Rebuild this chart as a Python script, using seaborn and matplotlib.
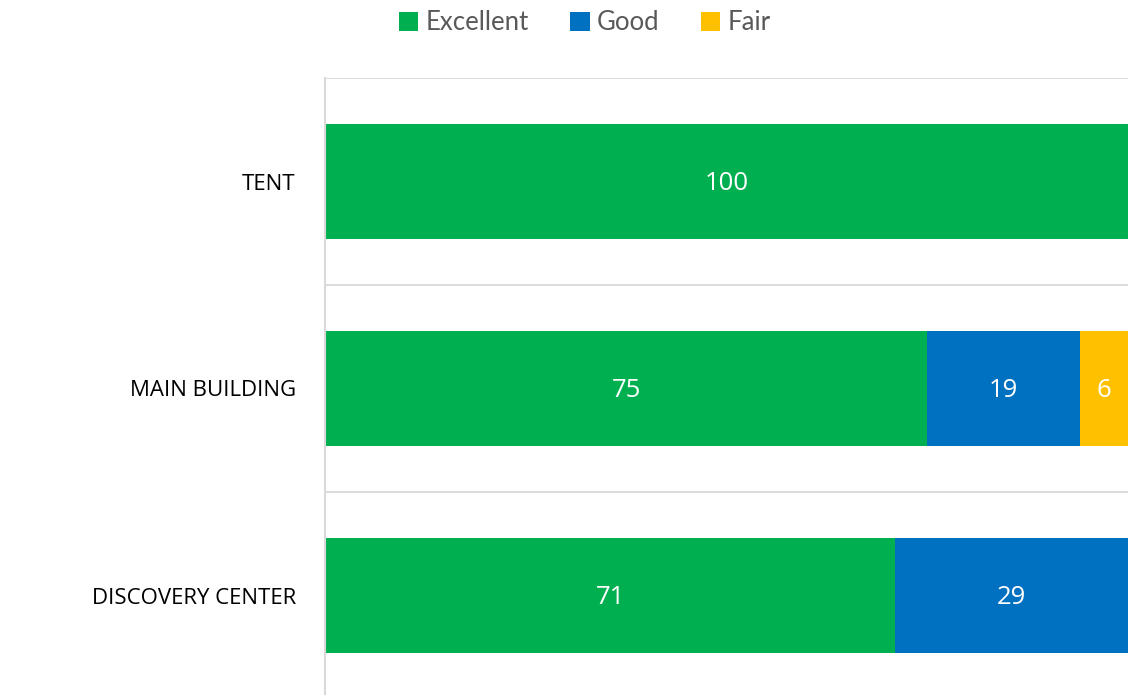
import matplotlib
matplotlib.use("Agg")
import matplotlib.pyplot as plt
from matplotlib.patches import Patch
import seaborn as sns
import numpy as np
import pandas as pd

categories = ["TENT", "MAIN BUILDING", "DISCOVERY CENTER"]
excellent = [100, 75, 71]
good = [0, 19, 29]
fair = [0, 6, 0]
series_names = ["Excellent", "Good", "Fair"]
colors = ["#00B050", "#0070C0", "#FFC000"]

sns.set_theme(style="white")
plt.rcParams["font.family"] = ["Lato", "DejaVu Sans"]

fig = plt.figure(figsize=(11.35, 6.95), dpi=100)
ax = fig.add_axes([325 / 1135, -4 / 695, (1128 - 325) / 1135, (699 - 78) / 695])

series = [excellent, good, fair]
cum = np.cumsum(np.array(series, dtype=float), axis=0)
df = pd.DataFrame({"cat": categories})
bar_h = 115 / 207

# draw from largest cumulative to smallest so the stack shows
for i in range(len(series) - 1, -1, -1):
    df["val"] = cum[i]
    sns.barplot(data=df, x="val", y="cat", color=colors[i], width=bar_h,
                saturation=1, ax=ax, orient="h", linewidth=0)

# data labels
for i, s in enumerate(series):
    for j, v in enumerate(s):
        if v > 0:
            start = cum[i][j] - v
            ax.text(start + v / 2, j + 0.012, f"{v}", ha="center", va="center",
                    color="white", fontsize=18.5, family=["Open Sans", "DejaVu Sans"])

ax.set_xlim(0, 100)
ax.set_ylim(2.5, -0.5)
ax.set_xlabel("")
ax.set_ylabel("")
ax.set_xticks([])
ax.set_yticks(range(len(categories)))
ax.set_yticklabels(categories, fontsize=16, color="#000000",
                   family=["Open Sans", "DejaVu Sans"])
ax.tick_params(axis="y", length=0, pad=21)
ax.set_yticks([-0.5, 0.5, 1.5, 2.5], minor=True)
ax.grid(False)
ax.grid(True, which="minor", axis="y", color="#D9D9D9", linewidth=1.3)
ax.tick_params(axis="y", which="minor", length=0)
ax.set_axisbelow(True)
for sp in ["top", "right", "bottom"]:
    ax.spines[sp].set_visible(False)
ax.spines["left"].set_color("#D9D9D9")
ax.spines["left"].set_linewidth(1.5)

handles = [Patch(facecolor=c, edgecolor="none") for c in colors]
leg = fig.legend(handles, series_names, loc="center", bbox_to_anchor=(585 / 1135, 1 - 23 / 695),
                 ncol=3, frameon=False, fontsize=18.5, handlelength=0.75, handleheight=0.75,
                 handletextpad=0.3, columnspacing=1.6)
for t in leg.get_texts():
    t.set_color("#595959")

fig.savefig("out.png", dpi=100)
